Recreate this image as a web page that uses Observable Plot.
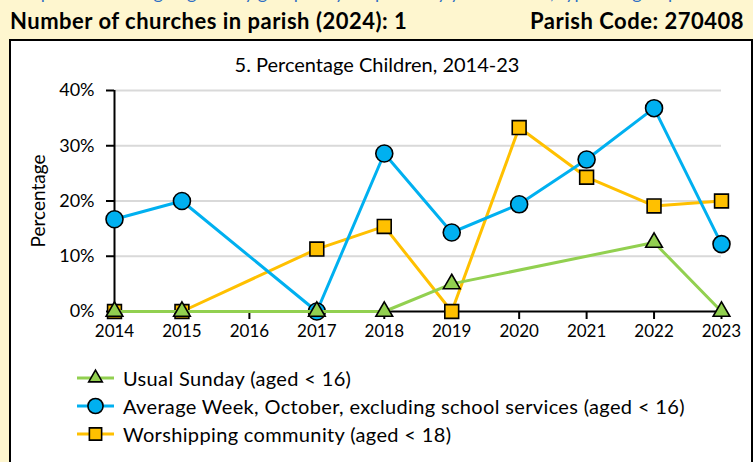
<!DOCTYPE html>
<html>
<head>
<meta charset="utf-8">
<script src="https://cdn.jsdelivr.net/npm/d3@7"></script>
<script src="https://cdn.jsdelivr.net/npm/@observablehq/plot@0.6"></script>
<style>
  body { margin:0; background:#fef6cf; width:753px; height:462px; overflow:hidden; position:relative; font-family: Lato, "Open Sans", sans-serif; color:#000; }
  #topline { position:absolute; left:4px; top:-19px; color:#2e6fc4; font-size:18px; white-space:nowrap; }
  .hdr { position:absolute; top:8px; font-weight:bold; font-size:22px; line-height:26px; letter-spacing:0.5px; white-space:nowrap; }
  #box { position:absolute; left:9px; top:39px; width:740px; height:440px; border:2px solid #000; background:#fff; }
  #title { position:absolute; left:0; width:740px; top:11px; text-align:center; font-size:20px; line-height:24px; padding-right:8px; box-sizing:border-box; }
  #chart { position:absolute; left:0; top:30px; }
  #legend { position:absolute; left:66px; top:323px; font-size:20px; letter-spacing:0.35px; }
  .row { height:28px; display:flex; align-items:center; white-space:nowrap; }
  .row svg { margin-right:9px; }
</style>
</head>
<body>
<div id="topline">Compare the average figures by group for your parish by your diocese, type and group</div>
<div class="hdr" style="left:10px">Number of churches in parish (2024): 1</div>
<div class="hdr" style="right:9px">Parish Code: 270408</div>
<div id="box">
  <div id="title">5. Percentage Children, 2014-23</div>
  <div id="chart"></div>
  <div id="legend"></div>
</div>
<script>
const years = [2014, 2015, 2016, 2017, 2018, 2019, 2020, 2021, 2022, 2023];
const usualSunday = [0, 0, null, 0, 0, 5.0, null, null, 12.5, 0];
const averageWeek = [16.7, 20.0, null, 0, 28.6, 14.3, 19.4, 27.5, 36.8, 12.2];
const worshipping = [0, 0, null, 11.3, 15.4, 0, 33.3, 24.3, 19.1, 20.0];
const yTicks = [0, 10, 20, 30, 40];
const seriesNames = [
  "Usual Sunday (aged < 16)",
  "Average Week, October, excluding school services (aged < 16)",
  "Worshipping community (aged < 18)"
];
const seriesColors = ["#92d050", "#00b0f0", "#ffc000"];
const seriesSymbols = ["triangle", "circle", "square"];
const seriesValues = [usualSunday, averageWeek, worshipping];

const rowsFor = (vals) => years.map((y, i) => ({year: y, value: vals[i]})).filter(d => d.value != null);

// drawing order: worshipping (bottom), average week, usual sunday (top)
const order = [2, 1, 0];
const symR = {triangle: 6.2, circle: 8.5, square: 7.8};
const seriesMarks = order.flatMap(k => [
  Plot.line(rowsFor(seriesValues[k]), {x: "year", y: "value", stroke: seriesColors[k], strokeWidth: 3}),
  Plot.dot(rowsFor(seriesValues[k]), {x: "year", y: "value", fill: seriesColors[k], stroke: "#000", strokeWidth: 1.6, symbol: seriesSymbols[k], r: symR[seriesSymbols[k]]})
]);

const chart = Plot.plot({
  width: 739,
  height: 274,
  marginLeft: 103,
  marginRight: 29,
  marginTop: 19,
  marginBottom: 34,
  style: {fontFamily: "Lato, 'Open Sans', sans-serif", fontSize: "16px", color: "#000", background: "transparent", overflow: "visible"},
  x: {domain: [2014, 2023], type: "linear"},
  y: {domain: [0, 40]},
  marks: [
    Plot.ruleY(yTicks.filter(d => d > 0), {stroke: "#d9d9d9", strokeWidth: 2}),
    Plot.axisY({ticks: yTicks, tickSize: 8, tickPadding: 12, strokeWidth: 2, tickFormat: d => d + "%", fontSize: 18, label: null}),
    Plot.axisX({ticks: years, tickSize: 8, tickPadding: 5, strokeWidth: 2, tickFormat: d => String(d), fontSize: 17, label: null}),
    Plot.ruleX([2014], {stroke: "#000", strokeWidth: 2}),
    Plot.ruleY([0], {stroke: "#000", strokeWidth: 2}),
    Plot.text(["Percentage"], {frameAnchor: "left", textAnchor: "middle", rotate: -90, dx: -76, fontSize: 19}),
    ...seriesMarks
  ]
});
document.getElementById("chart").appendChild(chart);

// legend
const legend = document.getElementById("legend");
seriesNames.forEach((name, k) => {
  const row = document.createElement("div");
  row.className = "row";
  const s = d3.create("svg").attr("width", 37).attr("height", 20);
  s.append("line").attr("x1", 0).attr("x2", 37).attr("y1", 10).attr("y2", 10).attr("stroke", seriesColors[k]).attr("stroke-width", 3);
  const type = {triangle: d3.symbolTriangle, circle: d3.symbolCircle, square: d3.symbolSquare}[seriesSymbols[k]];
  const size = {triangle: 80, circle: 180, square: 150}[seriesSymbols[k]];
  s.append("path").attr("d", d3.symbol(type, size)()).attr("transform", "translate(18.5,10)").attr("fill", seriesColors[k]).attr("stroke", "#000").attr("stroke-width", 1.6);
  row.appendChild(s.node());
  const t = document.createElement("span");
  t.textContent = name;
  row.appendChild(t);
  legend.appendChild(row);
});
</script>
</body>
</html>
